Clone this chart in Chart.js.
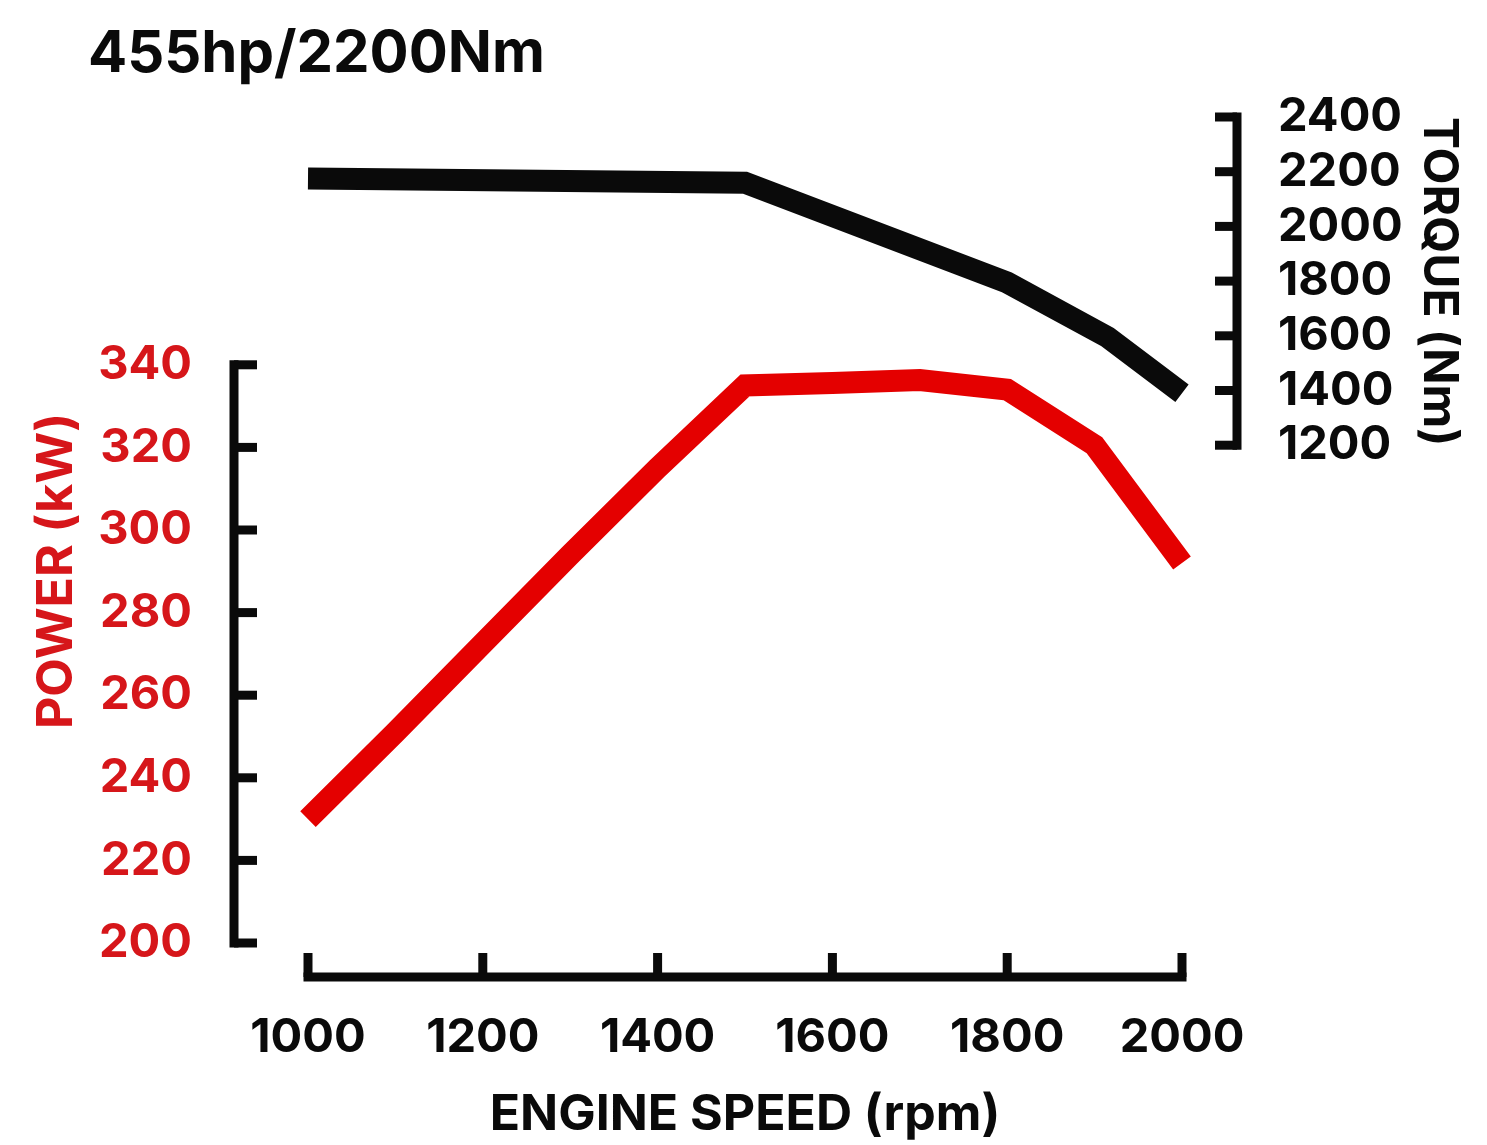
<!DOCTYPE html>
<html>
<head>
<meta charset="utf-8">
<script src="https://cdn.jsdelivr.net/npm/chart.js@4.4.1/dist/chart.umd.min.js"></script>
<style>
  html, body { margin: 0; padding: 0; background: #ffffff; }
  #wrap { width: 1487px; height: 1145px; }
</style>
</head>
<body>
<div id="wrap"><canvas id="c" width="1487" height="1145"></canvas></div>
<script>
// ---- data ----
const chartTitle = '455hp/2200Nm';
const xTitle = 'ENGINE SPEED (rpm)';
const powerTitle = 'POWER (kW)';
const torqueTitle = 'TORQUE (Nm)';

const powerRpm = [1000, 1100, 1200, 1300, 1400, 1500, 1600, 1700, 1800, 1900, 2000];
const powerKw  = [230, 251, 272.5, 294, 315, 335, 335.6, 336.3, 334, 320.5, 292];

const torqueRpm = [1000, 1500, 1800, 1915, 2000];
const torqueNm  = [2175, 2160, 1795, 1595, 1390];

const xTicks      = [1000, 1200, 1400, 1600, 1800, 2000];
const powerTicks  = [200, 220, 240, 260, 280, 300, 320, 340];
const torqueTicks = [1200, 1400, 1600, 1800, 2000, 2200, 2400];

// ---- styles ----
const RED_LINE = 'rgb(228,0,0)';
const RED_TEXT = 'rgb(214,22,26)';
const BLACK = '#0a0a0a';
const FONT = 'Inter';

Chart.defaults.font.family = FONT;

const toPoints = (xs, ys) => xs.map((v, i) => ({ x: v, y: ys[i] }));
const plain = v => String(v);
const hiddenGrid = len => ({ display: true, drawOnChartArea: false, drawTicks: true, tickLength: len, color: 'rgba(0,0,0,0)' });

const axesPlugin = {
  id: 'detachedAxes',
  afterDraw(chart) {
    const { ctx, scales } = chart;
    const x = scales.x, y = scales.y, y2 = scales.y2;
    const seg = (x1, y1, x2, y2_) => { ctx.beginPath(); ctx.moveTo(x1, y1); ctx.lineTo(x2, y2_); ctx.stroke(); };
    ctx.save();
    ctx.strokeStyle = BLACK;
    ctx.lineWidth = 9;

    // power axis (left, detached)
    const px = x.left - 74;
    const pTop = y.getPixelForValue(powerTicks[powerTicks.length - 1]);
    const pBot = y.getPixelForValue(powerTicks[0]);
    ctx.lineCap = 'square';
    seg(px, pTop, px, pBot);
    ctx.lineCap = 'butt';
    powerTicks.forEach(v => { const py = y.getPixelForValue(v); seg(px, py, px + 23, py); });

    // torque axis (right, detached)
    const tx = x.right + 55;
    const tTop = y2.getPixelForValue(torqueTicks[torqueTicks.length - 1]);
    const tBot = y2.getPixelForValue(torqueTicks[0]);
    ctx.lineCap = 'square';
    seg(tx, tTop, tx, tBot);
    ctx.lineCap = 'butt';
    torqueTicks.forEach(v => { const py = y2.getPixelForValue(v); seg(tx, py, tx - 22, py); });

    // engine speed axis (bottom, detached)
    const ay = y.bottom + 34;
    const aL = x.getPixelForValue(xTicks[0]);
    const aR = x.getPixelForValue(xTicks[xTicks.length - 1]);
    ctx.lineCap = 'square';
    seg(aL, ay, aR, ay);
    ctx.lineCap = 'butt';
    xTicks.forEach(v => { const qx = x.getPixelForValue(v); seg(qx, ay, qx, ay - 24); });

    // power axis title (rotated)
    ctx.fillStyle = RED_TEXT;
    ctx.font = '700 50px ' + FONT;
    ctx.textAlign = 'center';
    ctx.textBaseline = 'middle';
    ctx.translate(57, 571);
    ctx.rotate(-Math.PI / 2);
    ctx.fillText(powerTitle, 0, 0);
    ctx.restore();
  }
};

new Chart(document.getElementById('c'), {
  type: 'line',
  data: {
    datasets: [
      {
        label: 'Power',
        data: toPoints(powerRpm, powerKw),
        yAxisID: 'y',
        borderColor: RED_LINE,
        borderWidth: 22,
        pointRadius: 0,
        tension: 0,
        borderJoinStyle: 'miter',
        borderCapStyle: 'butt',
        clip: false
      },
      {
        label: 'Torque',
        data: toPoints(torqueRpm, torqueNm),
        yAxisID: 'y2',
        borderColor: BLACK,
        borderWidth: 22,
        pointRadius: 0,
        tension: 0,
        borderJoinStyle: 'miter',
        borderCapStyle: 'butt',
        clip: false
      }
    ]
  },
  options: {
    responsive: false,
    devicePixelRatio: 1,
    animation: false,
    layout: { padding: { left: 88, right: 0, top: 0, bottom: 0 } },
    plugins: {
      legend: { display: false },
      tooltip: { enabled: false },
      title: {
        display: true,
        text: chartTitle,
        align: 'start',
        color: BLACK,
        font: { family: FONT, weight: '700', size: 58, lineHeight: 1.2 },
        padding: { top: 20, bottom: 27.4 }
      }
    },
    scales: {
      x: {
        type: 'linear',
        position: 'bottom',
        min: 1000,
        max: 2000,
        afterBuildTicks: s => { s.ticks = xTicks.map(v => ({ value: v })); },
        afterFit: s => { s.height = 202; },
        grid: hiddenGrid(67),
        border: { display: false },
        ticks: {
          padding: 0,
          color: BLACK,
          maxRotation: 0,
          autoSkip: false,
          callback: plain,
          font: { family: FONT, weight: '700', size: 47 }
        },
        title: {
          display: true,
          text: xTitle,
          color: BLACK,
          font: { family: FONT, weight: '700', size: 50, lineHeight: 1.2 },
          padding: { top: 0, bottom: 0 }
        }
      },
      y: {
        type: 'linear',
        position: 'left',
        min: 200,
        max: 400,
        afterBuildTicks: s => { s.ticks = powerTicks.map(v => ({ value: v })); },
        afterFit: s => { s.width = 220; },
        grid: hiddenGrid(116),
        border: { display: false },
        ticks: {
          padding: 0,
          color: RED_TEXT,
          autoSkip: false,
          callback: plain,
          font: { family: FONT, weight: '700', size: 47 }
        }
      },
      y2: {
        type: 'linear',
        position: 'right',
        min: -620,
        max: 2400,
        afterBuildTicks: s => { s.ticks = torqueTicks.map(v => ({ value: v })); },
        afterFit: s => { s.width = 305; },
        grid: hiddenGrid(96),
        border: { display: false },
        ticks: {
          padding: 0,
          color: BLACK,
          autoSkip: false,
          callback: plain,
          font: { family: FONT, weight: '700', size: 47 }
        },
        title: {
          display: true,
          text: torqueTitle,
          align: 'end',
          color: BLACK,
          font: { family: FONT, weight: '700', size: 48, lineHeight: 1.2 },
          padding: { top: 20, bottom: 0 }
        }
      }
    }
  },
  plugins: [axesPlugin]
});
</script>
</body>
</html>
